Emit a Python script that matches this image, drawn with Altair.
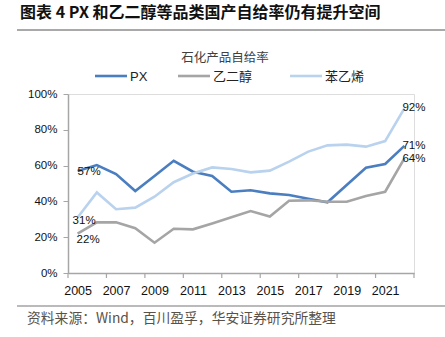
import altair as alt
import pandas as pd

years = list(range(2005, 2023))
px = [57, 60.3, 55.3, 45.8, 54.2, 62.7, 56.6, 54.2, 45.4, 46.2, 44.5, 43.6, 41.5, 39.5, 49.2, 58.8, 60.9, 71]
eg = [22, 28.3, 28.3, 25, 16.9, 24.7, 24.4, 27.7, 31.1, 34.6, 31.5, 40.4, 40.6, 39.8, 39.8, 43, 45.4, 64]
sm = [31, 45, 35.6, 36.5, 42.6, 50.7, 55.6, 59, 58.1, 56.2, 57.2, 62.2, 67.8, 71.3, 71.7, 70.6, 73.7, 92]
series_names = ["PX", "乙二醇", "苯乙烯"]
series_colors = ["#4A7EC0", "#A5A5A5", "#B9D2EE"]
x_label_years = [2005, 2007, 2009, 2011, 2013, 2015, 2017, 2019, 2021]
y_ticks = [0, 0.2, 0.4, 0.6, 0.8, 1.0]
tick_positions = [2004.5 + 2 * i for i in range(10)]

TITLE = "图表 4 PX 和乙二醇等品类国产自给率仍有提升空间"
SUBTITLE = "石化产品自给率"
SOURCE = "资料来源：Wind，百川盈孚，华安证券研究所整理"

rows = []
for name, vals in zip(series_names, [px, eg, sm]):
    for y, v in zip(years, vals):
        rows.append({"year": y, "value": v / 100, "series": name})
df = pd.DataFrame(rows)

W, H = 346, 179
FONT = "Liberation Sans, Noto Sans CJK SC"
CJK = "Noto Sans CJK SC, Liberation Sans"

xscale = alt.Scale(domain=[2004.5, 2022.5], nice=False, zero=False)
yscale = alt.Scale(domain=[0, 1], nice=False)
cscale = alt.Scale(domain=series_names, range=series_colors)

x_axis = alt.Axis(values=x_label_years, format="d", ticks=False, labelFontSize=12.5,
                  labelColor="#111", labelFont=FONT, labelPadding=11, labelOverlap=False,
                  domainColor="#A6A6A6", domainWidth=1.5, grid=False, labelFlush=False,
                  title=None)
y_axis = alt.Axis(values=y_ticks, format=".0%", tickSize=5, labelOverlap=False,
                  tickColor="#A6A6A6", domainColor="#A6A6A6", domainWidth=1.5,
                  labelFontSize=11.5, labelColor="#111", labelFont=FONT,
                  labelPadding=6, grid=False, labelFlush=False, title=None)

X = alt.X("year:Q", scale=xscale, axis=x_axis, title=None)
Y = alt.Y("value:Q", scale=yscale, axis=y_axis, title=None)

lines = alt.Chart(df).mark_line(strokeWidth=2.6).encode(
    x=X, y=Y, color=alt.Color("series:N", scale=cscale, legend=None),
)

tick_df = pd.DataFrame({"year": tick_positions})
ticks = alt.Chart(tick_df).mark_rule(color="#A6A6A6", strokeWidth=1.2).encode(
    x=X, y=alt.value(H), y2=alt.value(H + 5)
)

first = df[df.year == years[0]]
last = df[df.year == years[-1]]

def lab(d, dx, dy):
    return alt.Chart(d).mark_text(align="left", baseline="middle", dx=dx, dy=dy, fontSize=11.5,
                                  font=FONT, color="#111").encode(
        x=X, y=Y, text=alt.Text("value:Q", format=".0%"))

labels = [
    lab(first[first.series == "PX"], 0, 1),
    lab(first[first.series == "苯乙烯"], -5, 3),
    lab(first[first.series == "乙二醇"], -1, 6),
    lab(last[last.series == "苯乙烯"], -2, 0),
    lab(last[last.series == "PX"], -2, 0),
    lab(last[last.series == "乙二醇"], -2, 1),
]

# manual legend
leg_df = pd.DataFrame({"series": series_names,
                       "x1": [27, 110, 222], "x2": [59, 142, 254], "tx": [62, 145, 257]})
leg_parts = []
for _, r in leg_df.iterrows():
    d = pd.DataFrame({"series": [r["series"]]})
    leg_parts.append(alt.Chart(d).mark_rule(strokeWidth=2.6).encode(
        x=alt.value(int(r["x1"])), x2=alt.value(int(r["x2"])), y=alt.value(-18),
        color=alt.Color("series:N", scale=cscale, legend=None)))
    leg_parts.append(alt.Chart(d).mark_text(align="left", baseline="middle", fontSize=13,
                                            font=FONT, color="#222").encode(
        x=alt.value(int(r["tx"])), y=alt.value(-17), text="series:N"))

def txt(s, x, y, size, weight="normal", color="#222", align="left"):
    return alt.Chart(pd.DataFrame({"s": [s]})).mark_text(
        align=align, baseline="middle", fontSize=size, fontWeight=weight, color=color,
        font=CJK).encode(x=alt.value(x), y=alt.value(y), text="s:N")

title = txt(TITLE, -48, -81, 16, weight="bold", color="#111")
subtitle = txt(SUBTITLE, 157, -36, 12.5, color="#404040", align="center")
source = txt(SOURCE, -41, 225, 13.8, color="#5a5248")

line1 = alt.Chart(pd.DataFrame({"a": [0]})).mark_rule(color="#555", strokeWidth=1.2).encode(
    x=alt.value(-51), x2=alt.value(377), y=alt.value(-64))
line2 = alt.Chart(pd.DataFrame({"a": [0]})).mark_rule(color="#777", strokeWidth=1.2).encode(
    x=alt.value(-51), x2=alt.value(377), y=alt.value(212))

chart = alt.layer(lines, ticks, *labels, *leg_parts, title, subtitle, source, line1, line2).properties(
    width=W, height=H,
    autosize=alt.AutoSizeParams(type="none"),
    padding={"left": 68, "top": 94, "right": 31, "bottom": 64},
).configure_view(stroke=None).configure(background="white")

chart.save("out.html", embed_options={"renderer": "svg", "actions": False})
